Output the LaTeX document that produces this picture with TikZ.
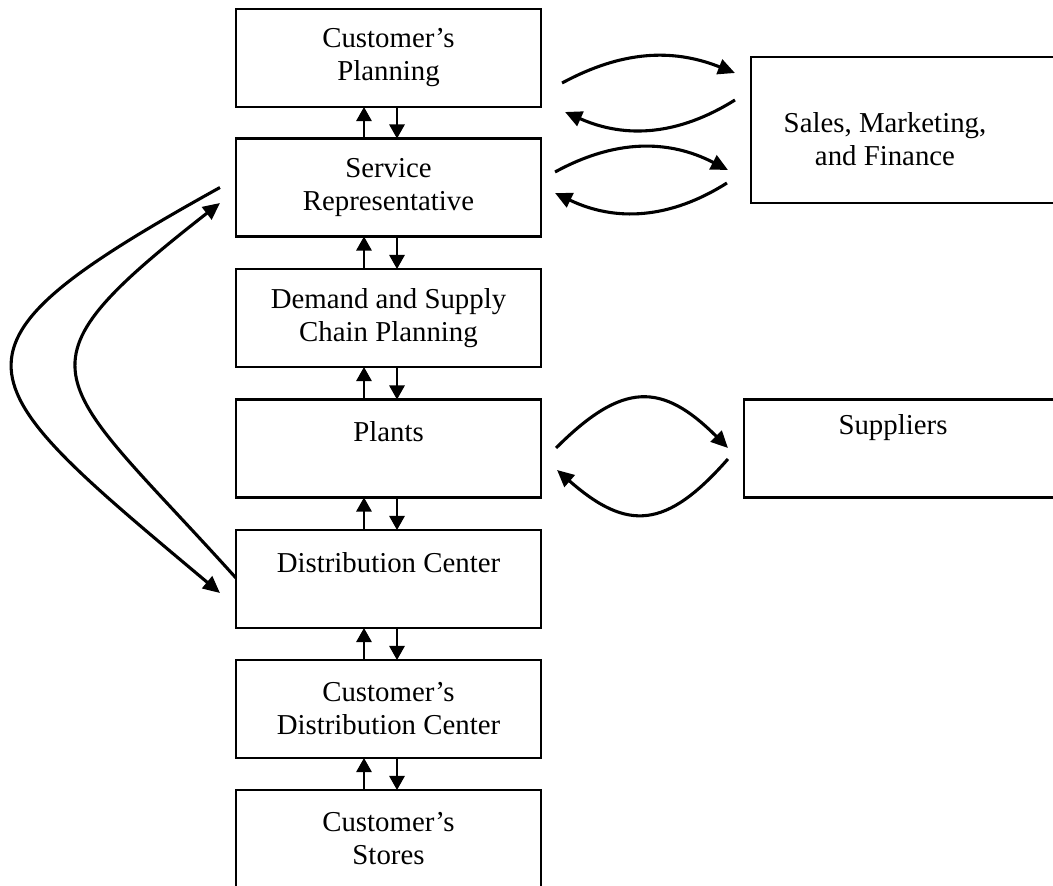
\documentclass[tikz,border=0pt]{standalone}
\usepackage{fontspec}
\setmainfont{Liberation Serif}
\usetikzlibrary{arrows.meta}

\begin{document}
\begin{tikzpicture}[
    x=0.025cm, y=0.025cm,
    stage/.style={draw, line width=1.6pt, rectangle, minimum width=7.625cm, minimum height=2.45cm,
      inner sep=0pt, outer sep=0pt, align=center, font=\fontsize{20.5}{23.5}\selectfont},
    party/.style={stage, minimum width=8.25cm},
    lbl/.style={align=center, inner sep=0pt, font=\fontsize{20.5}{23.5}\selectfont},
    link/.style={-{Triangle[length=10pt,width=11pt]}, line width=1.1pt},
    flow/.style={-{Triangle[length=12pt,width=11pt]}, line width=2.2pt},
  ]
  \path[use as bounding box] (0,0) rectangle (1053,-886);
  \clip (0,0) rectangle (1053,-886);

  % Main column, top to bottom
  \node[stage] (plan) at (388.5,-58) {Customer's\\Planning};
  \node[stage] (rep) at (388.5,-187.5) {Service\\Representative};
  \node[stage] (dscp) at (388.5,-318) {Demand and Supply\\Chain Planning};
  \node[stage] (plants) at (388.5,-448.5) {Plants\\~};
  \node[stage] (dc) at (388.5,-579) {Distribution Center\\~};
  \node[stage] (cdc) at (388.5,-709) {Customer's\\Distribution Center};
  \node[stage] (stores) at (388.5,-839) {Customer's\\Stores};

  % Outside parties, running off the right edge
  \node[party, minimum height=3.65cm] (sales) at (916,-130) {};
  \node[lbl] (salestxt) at (885,-139.5) {Sales, Marketing,\\and Finance};
  \node[party] (supp) at (909,-448.5) {};
  \node[lbl] (supptxt) at (893,-428) {Suppliers};

  % Up and down links between neighbours
  \draw[link] ([xshift=-6.125mm]rep.north) -- ([xshift=-6.125mm]plan.south);
  \draw[link] ([xshift=2.125mm]plan.south) -- ([xshift=2.125mm]rep.north);
  \draw[link] ([xshift=-6.125mm]dscp.north) -- ([xshift=-6.125mm]rep.south);
  \draw[link] ([xshift=2.125mm]rep.south) -- ([xshift=2.125mm]dscp.north);
  \draw[link] ([xshift=-6.125mm]plants.north) -- ([xshift=-6.125mm]dscp.south);
  \draw[link] ([xshift=2.125mm]dscp.south) -- ([xshift=2.125mm]plants.north);
  \draw[link] ([xshift=-6.125mm]dc.north) -- ([xshift=-6.125mm]plants.south);
  \draw[link] ([xshift=2.125mm]plants.south) -- ([xshift=2.125mm]dc.north);
  \draw[link] ([xshift=-6.125mm]cdc.north) -- ([xshift=-6.125mm]dc.south);
  \draw[link] ([xshift=2.125mm]dc.south) -- ([xshift=2.125mm]cdc.north);
  \draw[link] ([xshift=-6.125mm]stores.north) -- ([xshift=-6.125mm]cdc.south);
  \draw[link] ([xshift=2.125mm]cdc.south) -- ([xshift=2.125mm]stores.north);

  % Customer's Planning <-> Sales
  \draw[flow] ([shift={(21,-25)}]plan.east) to[bend left=25] ([shift={(-16,57)}]sales.west);
  \draw[flow] ([shift={(-16,30)}]sales.west) to[bend left=28] ([shift={(24,-54)}]plan.east);

  % Service Representative <-> Sales
  \draw[flow] ([shift={(14,15.5)}]rep.east) to[bend left=28] ([shift={(-23,-40)}]sales.west);
  \draw[flow] ([shift={(-24,-53)}]sales.west) to[bend left=29] ([shift={(14,-5.5)}]rep.east);

  % Plants <-> Suppliers
  \draw[flow] ([shift={(15,0.5)}]plants.east) to[bend left=45, looseness=1.4] ([shift={(-16,0.5)}]supp.west);
  \draw[flow] ([shift={(-16,-10.5)}]supp.west) to[bend left=45, looseness=1.4] ([shift={(16,-21.5)}]plants.east);

  % Loop round the left side: Service Representative <-> Distribution Center
  \draw[flow] ([xshift=-4mm]rep.west) to[out=209, in=140, looseness=2.13] ([shift={(-16,-14)}]dc.west);
  \draw[flow] ([yshift=0.25mm]dc.west) to[out=132, in=218, looseness=1.87] ([shift={(-16,-15.5)}]rep.west);
\end{tikzpicture}
\end{document}
